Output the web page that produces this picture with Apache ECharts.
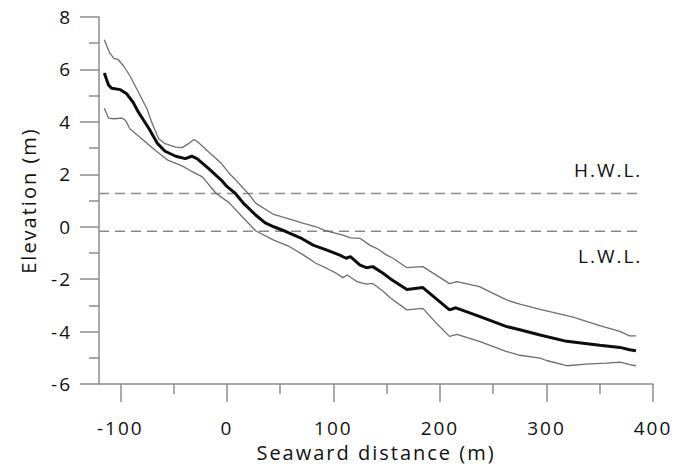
<!DOCTYPE html>
<html>
<head>
<meta charset="utf-8">
<script src="https://cdn.jsdelivr.net/npm/echarts@6/dist/echarts.min.js"></script>
<style>
  html, body { margin: 0; padding: 0; background: #fff; }
  #chart { width: 688px; height: 467px; }
  #chart text { letter-spacing: 2px; }
</style>
</head>
<body>
<div id="chart"></div>
<script>
// ---- data ----
const xMajorTicks = [-100, 0, 100, 200, 300, 400];
const xMinorTicks = [-50, 50, 150, 250, 350];

const meanX = [-115, -111, -108, -100, -94, -88, -83, -73, -65, -58, -48, -39, -33, -28, -17, -5, 0, 8, 16, 27, 36, 44, 56, 69, 81, 94, 106, 112, 116, 125, 131, 137, 147, 153, 169, 184, 209, 215, 237, 262, 275, 294, 319, 350, 369, 378, 384];
const meanY = [5.86, 5.40, 5.28, 5.23, 5.07, 4.75, 4.37, 3.74, 3.17, 2.88, 2.69, 2.60, 2.69, 2.60, 2.22, 1.77, 1.54, 1.27, 0.88, 0.45, 0.15, 0.0, -0.19, -0.42, -0.70, -0.89, -1.08, -1.20, -1.14, -1.46, -1.56, -1.52, -1.78, -1.97, -2.39, -2.32, -3.17, -3.09, -3.42, -3.80, -3.93, -4.13, -4.37, -4.52, -4.60, -4.69, -4.73];

const upperX = [-115, -110, -106, -102, -97, -91, -83, -75, -70, -64, -58, -48, -42, -36, -31, -28, -17, -5, 3, 8, 20, 27, 44, 59, 72, 84, 91, 97, 109, 116, 125, 134, 141, 150, 156, 169, 184, 209, 216, 237, 263, 275, 294, 325, 350, 369, 378, 384];
const upperY = [7.13, 6.63, 6.42, 6.37, 6.14, 5.76, 5.13, 4.50, 3.93, 3.36, 3.17, 3.04, 3.02, 3.17, 3.33, 3.26, 2.85, 2.41, 2.00, 1.80, 1.27, 0.90, 0.47, 0.29, 0.13, 0.0, -0.13, -0.19, -0.32, -0.42, -0.44, -0.70, -0.83, -1.08, -1.20, -1.56, -1.52, -2.17, -2.09, -2.28, -2.80, -2.95, -3.15, -3.45, -3.77, -3.99, -4.16, -4.16];

const lowerX = [-115, -111, -106, -98, -95, -91, -80, -67, -55, -42, -33, -23, -10, 2, 14, 27, 44, 59, 72, 84, 94, 103, 109, 113, 122, 131, 137, 147, 153, 169, 184, 195, 209, 216, 237, 262, 275, 294, 300, 319, 337, 356, 369, 378, 384];
const lowerY = [4.52, 4.14, 4.12, 4.14, 4.05, 3.74, 3.36, 2.91, 2.53, 2.32, 2.11, 1.90, 1.27, 0.92, 0.40, -0.15, -0.51, -0.76, -1.08, -1.40, -1.59, -1.78, -1.94, -1.84, -2.09, -2.19, -2.16, -2.47, -2.70, -3.17, -3.11, -3.61, -4.18, -4.10, -4.37, -4.75, -4.90, -5.01, -5.10, -5.30, -5.24, -5.20, -5.16, -5.26, -5.30];

const hwl = 1.27;
const lwl = -0.17;
const refLineX = [-120, 390];
const refLabels = ['H.W.L.', 'L.W.L.'];

// ---- chart ----
const zip = (xs, ys) => xs.map((x, i) => [x, ys[i]]);
const FONT = '"Open Sans", "DejaVu Sans", sans-serif';
const AXIS_GRAY = '#8c8c8c';

const chart = echarts.init(document.getElementById('chart'), null, { renderer: 'svg' });

const option = {
  animation: false,
  backgroundColor: '#ffffff',
  grid: { left: 99, right: 35, top: 17, bottom: 82, containLabel: false },
  xAxis: [
    {
      type: 'value', min: -120, max: 400,
      axisLine: { show: true, onZero: false, lineStyle: { color: AXIS_GRAY, width: 1.5 } },
      axisTick: { show: true, customValues: xMajorTicks, length: 18, lineStyle: { color: AXIS_GRAY, width: 1.5 } },
      axisLabel: { customValues: xMajorTicks, margin: 34, fontSize: 19, color: '#111', fontFamily: FONT },
      splitLine: { show: false },
      name: 'Seaward distance (m)', nameLocation: 'middle', nameGap: 53,
      nameTextStyle: { fontSize: 20, color: '#111', fontFamily: FONT }
    },
    {
      type: 'value', min: -120, max: 400, position: 'bottom',
      axisLine: { show: false, onZero: false },
      axisTick: { show: true, customValues: xMinorTicks, length: 10, lineStyle: { color: AXIS_GRAY, width: 1.5 } },
      axisLabel: { show: false },
      splitLine: { show: false }
    }
  ],
  yAxis: {
    type: 'value', min: -6, max: 8, interval: 2,
    axisLine: { show: true, onZero: false, lineStyle: { color: AXIS_GRAY, width: 1.5 } },
    axisTick: { show: true, length: 19, lineStyle: { color: AXIS_GRAY, width: 1.5 } },
    minorTick: { show: true, splitNumber: 2, length: 10, lineStyle: { color: AXIS_GRAY, width: 1.5 } },
    axisLabel: { margin: 27, fontSize: 19, color: '#111', fontFamily: FONT },
    splitLine: { show: false },
    name: 'Elevation (m)', nameLocation: 'middle', nameGap: 61, nameRotate: 90,
    nameTextStyle: { fontSize: 20, color: '#111', fontFamily: FONT }
  },
  series: [
    {
      type: 'line', data: refLineX.map(x => [x, hwl]), symbol: 'none', silent: true,
      lineStyle: { color: '#8a8a8a', width: 1.5, type: [10, 6] }
    },
    {
      type: 'line', data: refLineX.map(x => [x, lwl]), symbol: 'none', silent: true,
      lineStyle: { color: '#8a8a8a', width: 1.5, type: [10, 6] }
    },
    {
      type: 'line', data: zip(upperX, upperY), symbol: 'none',
      lineStyle: { color: '#6e6e6e', width: 1.3 }
    },
    {
      type: 'line', data: zip(lowerX, lowerY), symbol: 'none',
      lineStyle: { color: '#6e6e6e', width: 1.3 }
    },
    {
      type: 'line', data: zip(meanX, meanY), symbol: 'none',
      lineStyle: { color: '#0d0d0d', width: 3 }
    }
  ]
};
chart.setOption(option);

// labels for the reference water levels, positioned through the axis scales
const pH = chart.convertToPixel({ gridIndex: 0 }, [refLineX[1], hwl]);
const pL = chart.convertToPixel({ gridIndex: 0 }, [refLineX[1], lwl]);
chart.setOption({
  graphic: [
    { type: 'text', x: pH[0], y: pH[1] - 23, style: { text: refLabels[0], fontSize: 19, fontFamily: FONT, fill: '#111', align: 'right', verticalAlign: 'middle' } },
    { type: 'text', x: pL[0], y: pL[1] + 25, style: { text: refLabels[1], fontSize: 19, fontFamily: FONT, fill: '#111', align: 'right', verticalAlign: 'middle' } }
  ]
});
</script>
</body>
</html>
